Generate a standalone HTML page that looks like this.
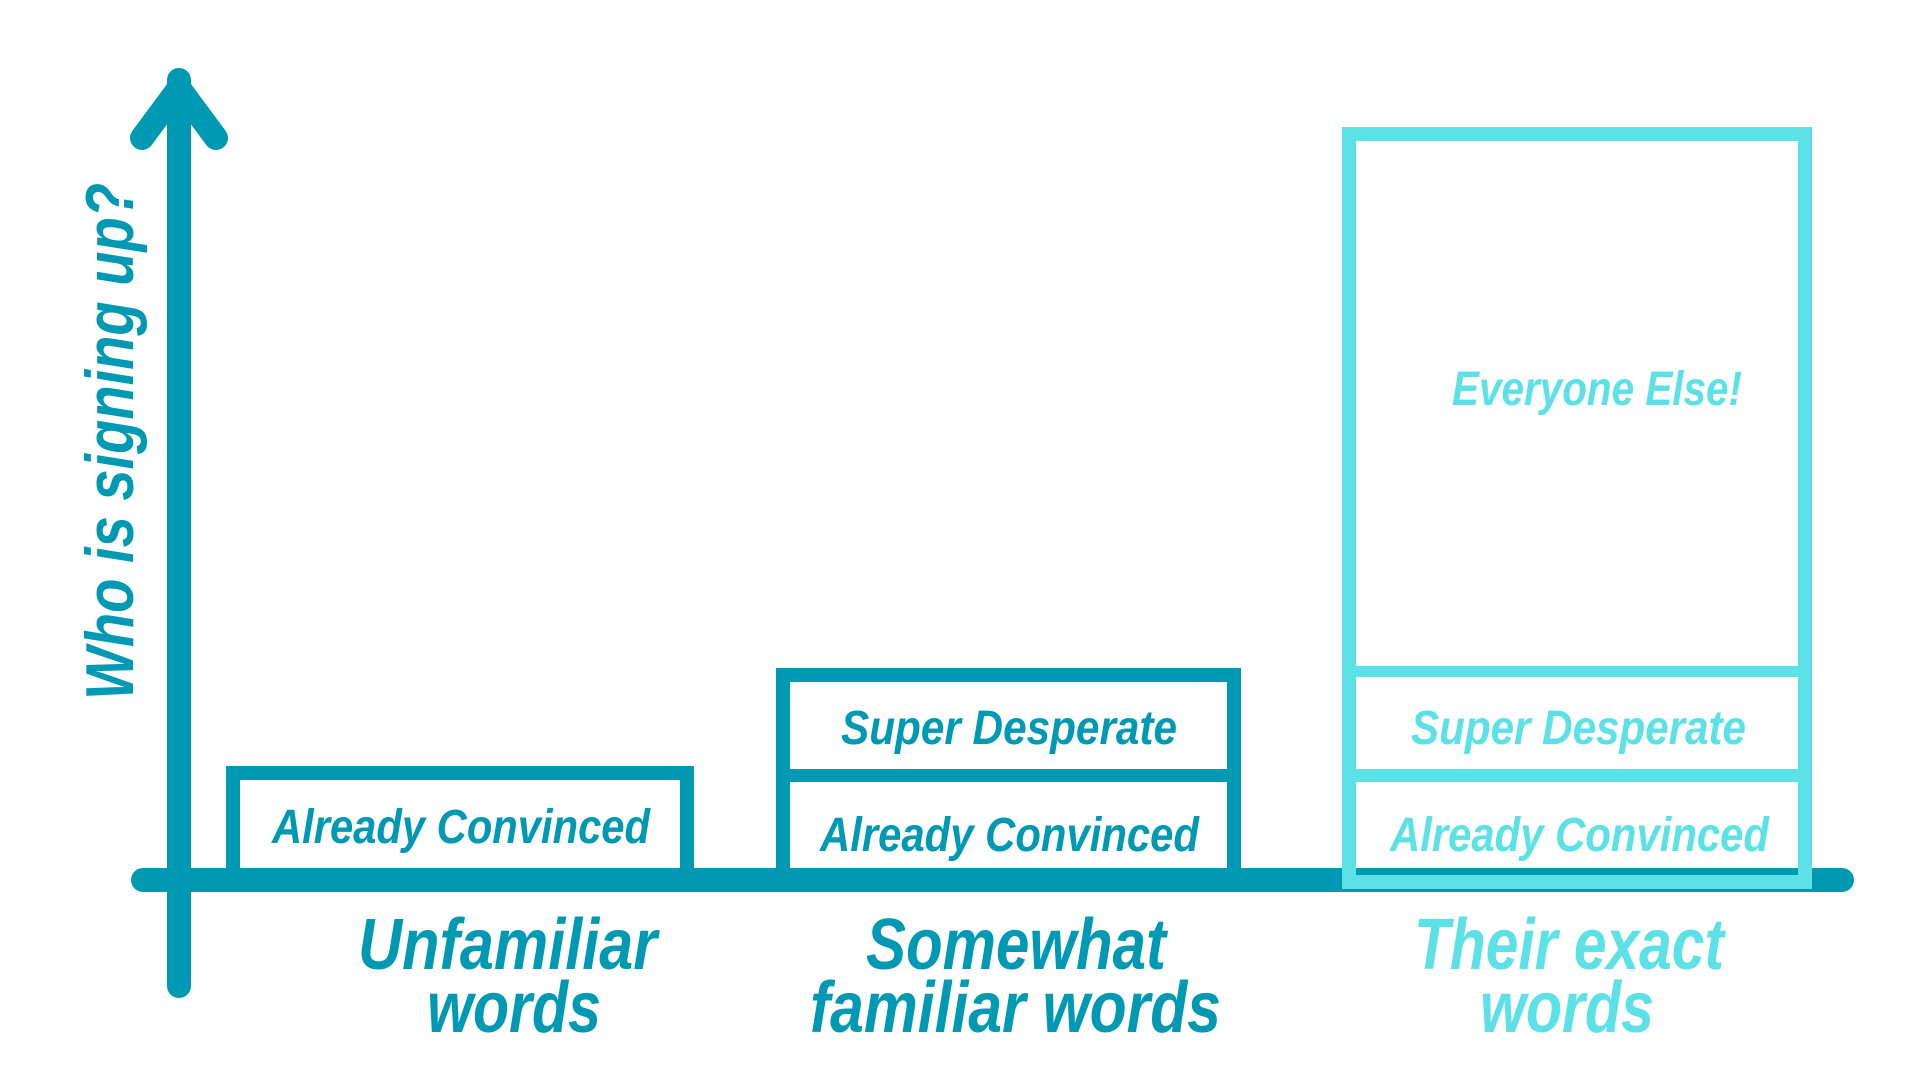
<!DOCTYPE html>
<html><head><meta charset="utf-8"><style>
html,body{margin:0;padding:0;background:#fff;width:1920px;height:1080px;overflow:hidden}
text{font-family:"Liberation Sans",sans-serif;font-weight:bold;font-style:italic}
</style></head><body>
<svg width="1920" height="1080" viewBox="0 0 1920 1080" xmlns="http://www.w3.org/2000/svg">
<g stroke="#0099B3" stroke-linecap="round" stroke-linejoin="round" fill="none">
<line x1="179" y1="80" x2="179" y2="986" stroke-width="24"/>
<polyline points="142,138 179,88 216,138" stroke-width="24"/>
<line x1="143" y1="880" x2="1842" y2="880" stroke-width="24"/>
</g>
<g fill="none" stroke="#0099B3" stroke-width="14">
<rect x="233" y="773" width="454" height="107"/>
<rect x="783" y="675" width="451" height="205"/>
<line x1="776" y1="775.5" x2="1241" y2="775.5" stroke-width="13"/>
</g>
<g fill="none" stroke="#5CE1E6" stroke-width="14">
<rect x="1349" y="134" width="456" height="748"/>
<line x1="1342" y1="671.5" x2="1812" y2="671.5" stroke-width="11"/>
<line x1="1342" y1="775.5" x2="1812" y2="775.5" stroke-width="13"/>
</g>
<g fill="#0099B3">
<text x="272" y="843" font-size="48" textLength="378" lengthAdjust="spacingAndGlyphs">Already Convinced</text>
<text x="841" y="744" font-size="48" textLength="336" lengthAdjust="spacingAndGlyphs">Super Desperate</text>
<text x="820" y="851" font-size="48" textLength="379" lengthAdjust="spacingAndGlyphs">Already Convinced</text>
<text x="358" y="969" font-size="72" textLength="299" lengthAdjust="spacingAndGlyphs">Unfamiliar</text>
<text x="427" y="1032" font-size="72" textLength="174" lengthAdjust="spacingAndGlyphs">words</text>
<text x="866" y="969" font-size="72" textLength="300" lengthAdjust="spacingAndGlyphs">Somewhat</text>
<text x="810" y="1032" font-size="72" textLength="411" lengthAdjust="spacingAndGlyphs">familiar words</text>
<text transform="translate(133,700) rotate(-90)" x="0" y="0" font-size="68" textLength="517" lengthAdjust="spacingAndGlyphs">Who is signing up?</text>
</g>
<g fill="#5CE1E6">
<text x="1452" y="405" font-size="48" textLength="290" lengthAdjust="spacingAndGlyphs">Everyone Else!</text>
<text x="1411" y="744" font-size="48" textLength="335" lengthAdjust="spacingAndGlyphs">Super Desperate</text>
<text x="1390" y="851" font-size="48" textLength="379" lengthAdjust="spacingAndGlyphs">Already Convinced</text>
<text x="1414" y="969" font-size="72" textLength="310" lengthAdjust="spacingAndGlyphs">Their exact</text>
<text x="1480" y="1032" font-size="72" textLength="174" lengthAdjust="spacingAndGlyphs">words</text>
</g>
</svg>
</body></html>
